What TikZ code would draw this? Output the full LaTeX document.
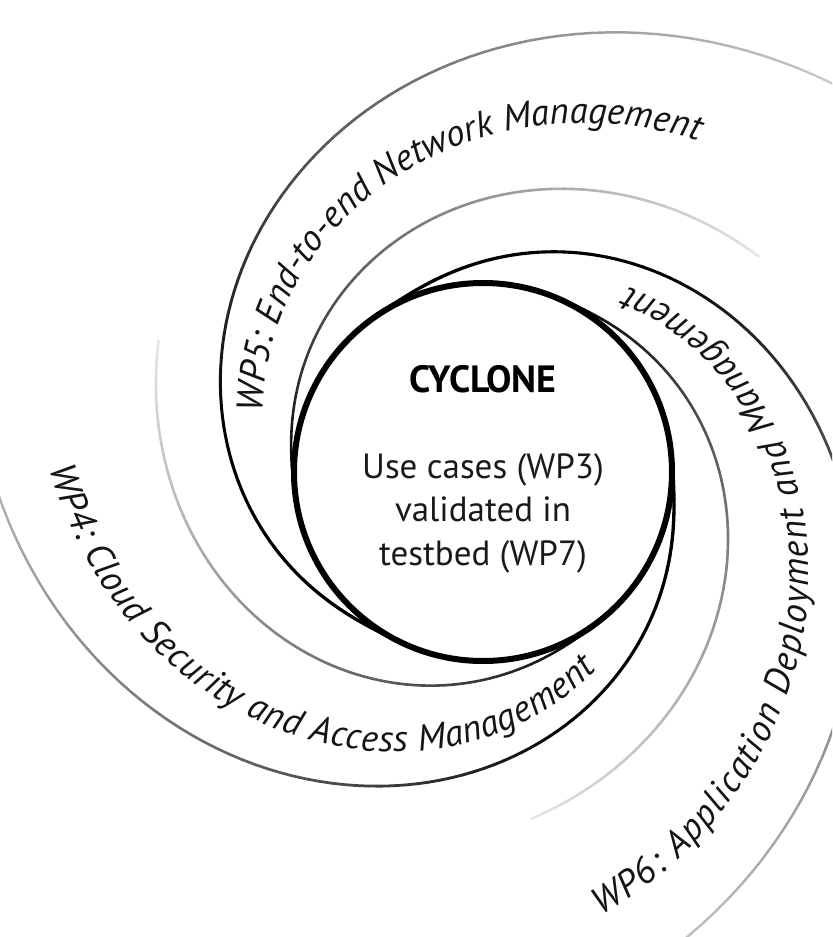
\documentclass[tikz,border=0pt]{standalone}
\usepackage{fontspec}
\setmainfont{PT Sans}
\usetikzlibrary{decorations.text}

\newcommand{\wpfont}{\itshape\fontsize{18.5}{20}\selectfont}

\tikzset{
  declare function={
    rout(\d)=190+0.125*max(\d,0)*sqrt(max(\d,0));
    rin(\d)=190+0.0907*max(\d,0)*sqrt(max(\d,0));
    rmid(\d,\f)=rin(\d-56)+\f*(rout(\d)-rin(\d-56));
  },
  armline/.style={line cap=round},
  wplabel/.style={decorate, decoration={text along path, text align=fit to path, text format delimiters={|}{|}, text color=black!92}},
}

\begin{document}
\begin{tikzpicture}[x=0.5pt, y=-0.5pt]
\useasboundingbox (0,0) rectangle (832,937);
\clip (0,0) rectangle (832,937);
% spiral arms, fading out
\foreach \rot in {0,120,240} {
  \foreach \i in {0,...,104} {
    \pgfmathsetmacro\da{2*\i}
    \pgfmathsetmacro\db{2*\i+2}
    \pgfmathsetmacro\shade{100-0.65*max(\da-70,0)}
    \pgfmathsetmacro\lw{1.7-0.6*\da/210}
    \draw[armline, line width=\lw pt, black!\shade] ({483+rout(\da)*cos(240+\rot-\da)}, {472-rout(\da)*sin(240+\rot-\da)}) -- ({483+rout(\db)*cos(240+\rot-\db)}, {472-rout(\db)*sin(240+\rot-\db)});
  }
  \foreach \i in {0,...,72} {
    \pgfmathsetmacro\da{2*\i}
    \pgfmathsetmacro\db{2*\i+2}
    \pgfmathsetmacro\shade{100-0.62*\da}
    \draw[armline, line width=1.3pt, black!\shade] ({483+rin(\da)*cos(184+\rot-\da)}, {472-rin(\da)*sin(184+\rot-\da)}) -- ({483+rin(\db)*cos(184+\rot-\db)}, {472-rin(\db)*sin(184+\rot-\db)});
  }
}
% labels along the arms
\path[wplabel, decoration={text={|\wpfont|WP5: End-to-end Network Management}}] plot[domain=165:57, samples=120, variable=\t] ({483+rmid(240-\t,0.42)*cos(\t)}, {472-rmid(240-\t,0.42)*sin(\t)});
\path[wplabel, decoration={text={|\wpfont|WP4: Cloud Security and Access Management}}] plot[domain=179.5:300, samples=120, variable=\t] ({483+rmid(360-\t,0.66)*cos(\t)}, {472-rmid(360-\t,0.66)*sin(\t)});
\path[wplabel, decoration={text={|\wpfont|WP6: Application Deployment and Management}}] plot[domain=-75:52, samples=120, variable=\t] ({483+rmid(120-\t,0.63)*cos(\t)}, {472-rmid(120-\t,0.63)*sin(\t)});
% centre
\node[circle, draw, line width=3pt, minimum size=189pt, inner sep=0pt] (cyclone) at (483,472) {};
\node[font=\bfseries\fontsize{19}{22}\selectfont, anchor=base] (title) at (483,392) {CYCLONE};
\node[font=\fontsize{17.5}{21.75}\selectfont, text=black!90, align=center] (usecases) at (483,513) {Use cases (WP3)\\validated in\\testbed (WP7)};
\end{tikzpicture}
\end{document}
